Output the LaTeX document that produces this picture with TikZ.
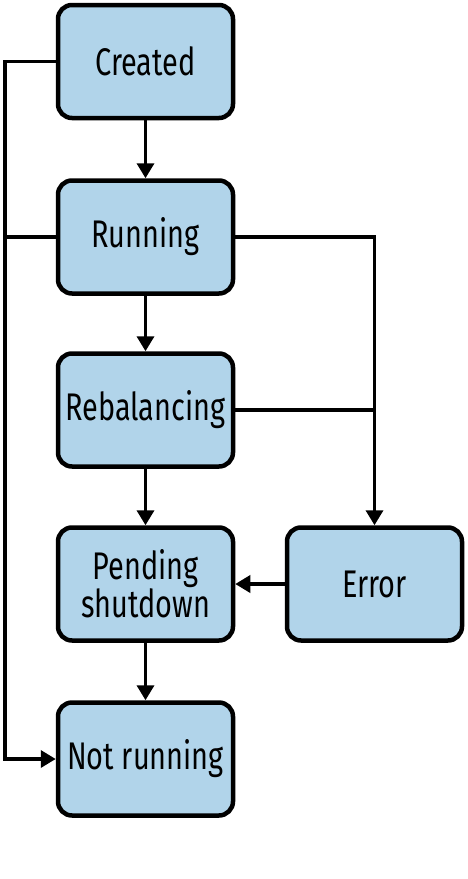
\documentclass[tikz,border=0pt]{standalone}
\usepackage{fontspec}
\setmainfont{Fira Sans}[FakeStretch=0.75]
\usetikzlibrary{arrows.meta}
\definecolor{statefill}{RGB}{177,212,234}
\tikzset{
  state/.style={draw=black, line width=4.5pt, fill=statefill, rounded corners=14pt,
    minimum width=175pt, minimum height=113pt, align=center,
    font=\fontsize{38.5}{31}\selectfont, inner sep=0pt},
  flow/.style={line width=3.5pt, -{Triangle[length=15pt,width=17pt]}},
  busline/.style={line width=3.5pt}
}
\begin{document}
\begin{tikzpicture}[x=1pt, y=-1pt]
  \useasboundingbox (0,0) rectangle (467,879);
  \node[state] (created) at (145.5,61.5) {Created};
  \node[state] (running) at (145.5,237) {Running};
  \node[state] (rebal) at (145.5,410) {Rebalancing};
  \node[state] (pending) at (145.5,584) {Pending\\shutdown};
  \node[state] (notrun) at (145.5,759) {Not running};
  \node[state] (error) at (374.5,584) {Error};
  \coordinate (leftbus) at (5,237);
  \coordinate (rightbus) at (375,410);
  % main chain
  \draw[flow] (created) -- (running);
  \draw[flow] (running) -- (rebal);
  \draw[flow] (rebal) -- (pending);
  \draw[flow] (pending) -- (notrun);
  \draw[flow] (error) -- (pending);
  % left side
  \draw[flow] (created.west) -| (leftbus) |- (notrun.west);
  \draw[busline] (running.west) -- (leftbus);
  % right side
  \draw[flow] (running.east) -| (error.north);
  \draw[busline] (rebal.east) -- (rightbus);
\end{tikzpicture}
\end{document}
